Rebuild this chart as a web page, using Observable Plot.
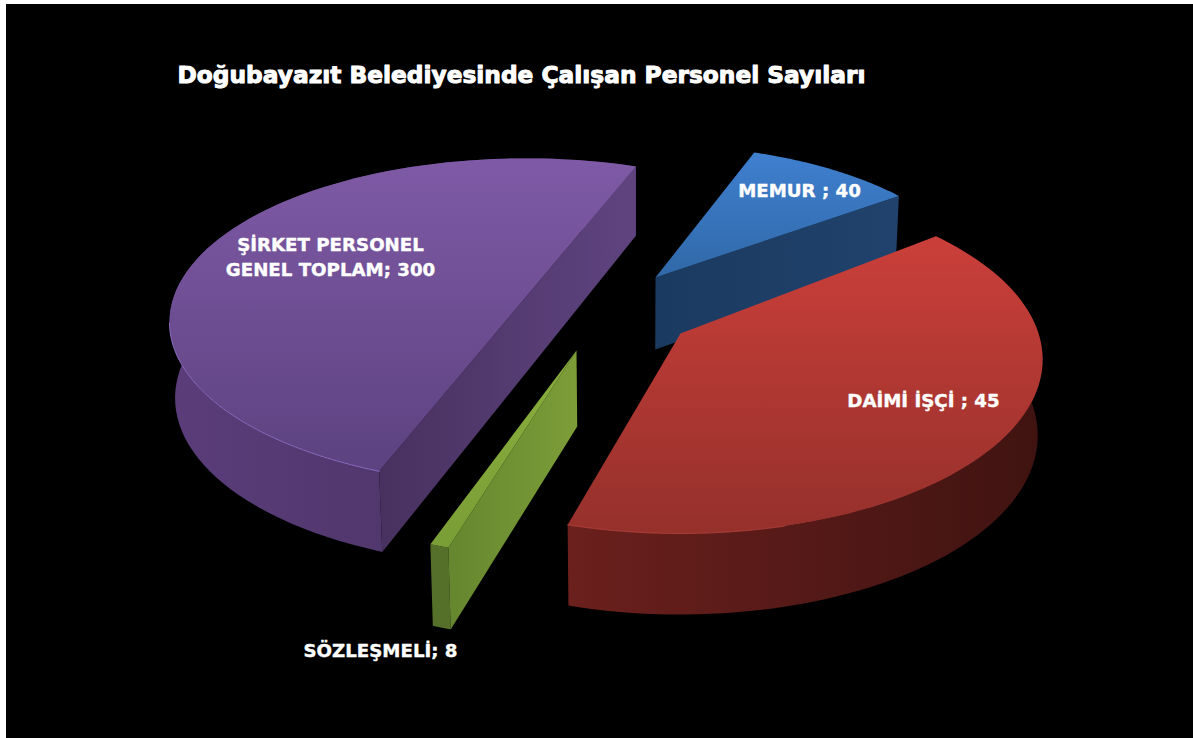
<!DOCTYPE html>
<html><head><meta charset="utf-8">
<style>html,body{margin:0;padding:0;background:#fff;overflow:hidden}svg{display:block}</style>
<script src="https://cdn.jsdelivr.net/npm/d3@7"></script>
<script src="https://cdn.jsdelivr.net/npm/@observablehq/plot@0.6"></script>
</head><body><script>
const titleText = "Doğubayazıt Belediyesinde Çalışan Personel Sayıları";
const categories = ["MEMUR ", "DAİMİ İŞÇİ ", "SÖZLEŞMELİ", "ŞİRKET PERSONEL\nGENEL TOPLAM"];
const values = [40, 45, 8, 300];
// Share of the circle each slice occupies as drawn in the picture (percent)
const drawnShares = [9.47, 40.1, 0.72, 50];
const startAngle = -69.8;
const sliceTwist = [0, -3, -1.3, -0.3];
// Explosion of each slice: where its tip sits, and its drawn size
const tipX = [655, 680, 576, 525];
const tipY = [277, 333, 350, 297];
const radiusX = [326, 358, 368, 352];
const radiusY = [152, 170, 177, 160];
const sliceDepth = [72, 75, 76, 75];
const labelX = [799, 923, 380, 330];
const labelY = [188, 398, 648, 255];
const topStops = [["#3f7fcf","#3069a8"],["#cb3f3a","#95302b"],["#8aae3c","#7a9e36"],["#7f5aa6","#5c4280"]];
const wallStops = [["#1c3a60","#1f4068"],["#6b201d","#3f1311"],["#54702a","#56702a"],["#5a3d7a","#45305c"]];
const cutStops = [["#1b3a60","#20426c"],null,["#66862f","#7c9d38"],["#48315f","#5f4480"]];
const rimColors = ["#4a8ad8","#c84a44","#9cc04a","#8a6cc0"];

// camera
const K = 0.15, SPREAD = 0.988, VANISH_X = 635, DEPTH_TILT = 6;
function project(i, deg, radius, low) {
  const t = deg * Math.PI / 180, u = radius * Math.cos(t), v = radius * Math.sin(t), w = 1 - K * v;
  let x = tipX[i] + radiusX[i] * u / w, y = tipY[i] + radiusY[i] * v / w;
  if (low) { y += sliceDepth[i] + DEPTH_TILT * v; x = VANISH_X + (x - VANISH_X) * SPREAD; }
  return {x, y};
}
const starts = []; let acc = startAngle;
for (const s of drawnShares) { starts.push(acc); acc += s * 3.6; }
const arc = (i, a0, a1, low) => d3.range(0, 81).map(n => project(i, a0 + (a1 - a0) * n / 80, 1, low));
const ang0 = i => starts[i] + sliceTwist[i], ang1 = i => ang0(i) + drawnShares[i] * 3.6;

const topFace = i => [project(i, 0, 0, false), ...arc(i, ang0(i), ang1(i), false)];
const wallFace = i => [...arc(i, ang0(i), ang1(i), false), ...arc(i, ang1(i), ang0(i), true)];
const quad = (i, p, q) => [project(i, p[0], p[1], false), project(i, q[0], q[1], false), project(i, q[0], q[1], true), project(i, p[0], p[1], true)];
const cutFaces = [
  quad(0, [0, 0], [ang1(0), 1]),
  null,
  quad(2, [0, 0], [ang0(2), 1]),
  quad(3, [ang0(3), 1], [ang1(3), 1])
];

function defs() {
  const d = d3.create("svg:defs");
  const add = (id, stops, vertical) => {
    if (!stops) return;
    const g = d.append("linearGradient").attr("id", id).attr("x1", 0).attr("y1", 0)
      .attr("x2", vertical ? 0 : 1).attr("y2", vertical ? 1 : 0);
    g.append("stop").attr("offset", 0).attr("stop-color", stops[0]);
    g.append("stop").attr("offset", 1).attr("stop-color", stops[1]);
  };
  categories.forEach((c, i) => {
    add("top" + i, topStops[i], true);
    add("wall" + i, wallStops[i], false);
    add("cut" + i, cutStops[i], false);
  });
  return d.node();
}
const face = (pts, id) => Plot.line(pts, {x: "x", y: "y", fill: `url(#${id})`, stroke: "none"});

const sliceMarks = [0, 3, 1, 2].flatMap(i => {
  const out = [];
  if (i !== 0) out.push(face(wallFace(i), "wall" + i));
  if (cutFaces[i]) out.push(face(cutFaces[i], "cut" + i));
  out.push(face(topFace(i), "top" + i));
  if (i === 3) out.push(Plot.line(arc(i, ang0(i), ang0(i) + 60, false), {x: "x", y: "y", stroke: rimColors[i], strokeWidth: 1}));
  if (i === 1) out.push(Plot.line(arc(i, ang1(i) - 30, ang1(i), false), {x: "x", y: "y", stroke: rimColors[i], strokeWidth: 0.7}));
  return out;
});

const labels = categories.map((c, i) => ({text: `${c}; ${values[i]}`, x: labelX[i], y: labelY[i]}));
const textStyle = {fill: "white", stroke: "white", fontFamily: "DejaVu Sans", fontWeight: "bold"};

const chart = Plot.plot({
  width: 1193, height: 738, margin: 0,
  x: {domain: [0, 1193], range: [0, 1193], axis: null},
  y: {domain: [0, 738], range: [0, 738], axis: null},
  style: {background: "white"},
  marks: [
    defs,
    Plot.rect([0], {x1: () => 6, x2: () => 1193, y1: () => 4, y2: () => 738, fill: "black"}),
    ...sliceMarks,
    Plot.text([titleText], {x: () => 177, y: () => 75, text: d => d, textAnchor: "start", fontSize: 23.3, strokeWidth: 1, ...textStyle}),
    Plot.text(labels, {x: "x", y: "y", text: "text", fontSize: 18.2, lineHeight: 1.38, strokeWidth: 0.4, ...textStyle})
  ]
});
document.body.append(chart);
</script></body></html>
